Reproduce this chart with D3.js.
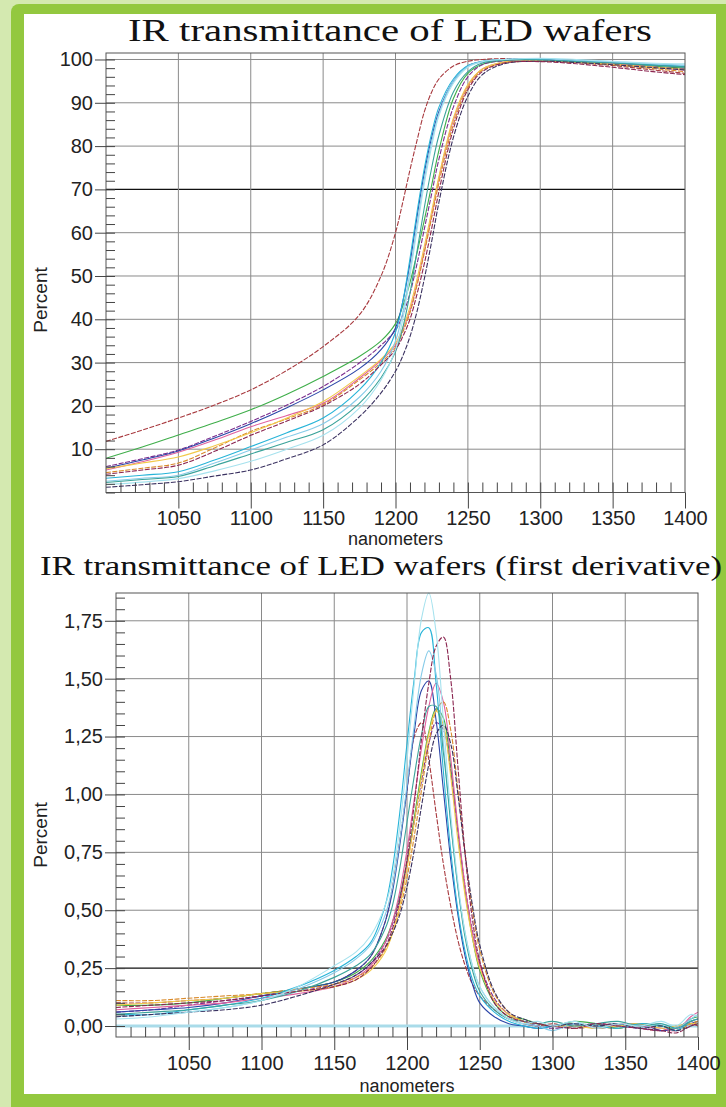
<!DOCTYPE html>
<html>
<head>
<meta charset="utf-8">
<script src="https://cdn.jsdelivr.net/npm/d3@7"></script>
<style>
  body { margin: 0; background: #d4e9b0; }
  svg { display: block; }
</style>
</head>
<body>
<div id="wrapper"></div>
<script>
// wavelength grid (nm) of the transmittance spectra
const nmTrans = [1000, 1025, 1050, 1075, 1100, 1125, 1150, 1175, 1190, 1200, 1205, 1210, 1215,
                 1220, 1225, 1230, 1240, 1250, 1260, 1275, 1300, 1325, 1350, 1375, 1400];
const transBrown  = [11.8, 14.4, 17.2, 20.2, 23.7, 28.2, 33.7, 41, 50, 60, 67, 74.5, 81.5, 88, 92.5, 95.5, 98.5, 99.6, 100, 100.2, 99.9, 99.3, 98.6, 97.7, 96.8];
const transGreen  = [7.9, 10.5, 13.3, 16.1, 19.1, 22.7, 26.8, 31.4, 35, 39, 43, 48.5, 55.5, 63, 71, 79, 91, 96.8, 98.9, 99.8, 99.8, 99.4, 99, 98.5, 98];
const transPurple = [6.0, 7.8, 9.8, 13, 16.4, 20.2, 24.5, 29.9, 34, 37.5, 41, 46, 53, 61, 69, 77, 89, 96, 98.8, 99.7, 99.8, 99.5, 99, 98.4, 97.8];
const transBlue   = [5.6, 7.5, 9.6, 12.6, 15.9, 19.6, 23.7, 28.6, 33, 38, 44, 53, 64, 74, 82, 88, 95, 98.5, 99.5, 100, 100, 99.6, 99.2, 98.8, 98.3];
const transPink   = [5.2, 7.1, 9.3, 12.1, 15.2, 17.8, 20.6, 26.4, 30.5, 34, 37.5, 42, 48.5, 56, 64, 72.5, 86, 94, 97.8, 99.4, 99.8, 99.5, 99, 98.3, 97.5];
const transOrange = [4.6, 5.6, 6.8, 10.3, 14.1, 17, 20.3, 26, 30, 33.5, 37, 41.5, 48, 55.5, 63.5, 71.5, 85, 93.5, 97.5, 99.2, 99.6, 99.3, 98.8, 98, 97.2];
const transYellow = [5.5, 6.8, 8.2, 10.8, 13.8, 17.2, 21, 26.8, 30.8, 34.5, 38, 42.8, 49.5, 57, 65, 73, 86.5, 94.2, 97.8, 99.4, 99.7, 99.4, 98.9, 98.3, 97.7];
const transCyan   = [3.3, 4.0, 4.8, 7.5, 10.6, 13.8, 17.2, 23.7, 30, 37, 44, 54, 65, 75, 83, 89, 95.5, 98.6, 99.6, 100, 100, 99.7, 99.3, 98.8, 98.5];
const transSky    = [2.6, 3.3, 4.0, 6.8, 9.8, 12.8, 15.9, 22, 28, 35, 41.5, 51, 62, 72.5, 81, 87.5, 95, 98.4, 99.5, 100, 100.2, 99.8, 99.4, 99, 98.7];
const transTeal   = [2.3, 3.0, 3.7, 6.2, 8.9, 11.6, 14.5, 20.6, 26.5, 32.5, 38, 46, 56, 66, 75, 82.5, 92.5, 97.2, 99.2, 99.8, 99.9, 99.5, 99.2, 98.7, 98.3];
const transNavy   = [1.2, 1.8, 2.5, 3.8, 5.2, 7.8, 11, 17.5, 23, 28, 31.5, 36, 42, 49.5, 58, 67, 82, 91.5, 96.5, 99, 99.6, 99.3, 98.8, 98.2, 97.6];
const transMaroon = [4.2, 5.2, 6.3, 9.5, 13.2, 16.5, 20, 25, 29.5, 33, 36, 40, 46, 53, 61, 69.5, 84, 93, 97.2, 99.2, 99.5, 99, 98.2, 97.3, 96.5];
const transIce    = [1.8, 2.4, 3.2, 5.0, 7.2, 10, 13.2, 19.5, 26, 33, 40, 50, 61, 71.5, 80, 87, 94.5, 98.2, 99.5, 100, 100.3, 100, 99.6, 99.2, 99];

// wavelength grid (nm) of the first derivative
const nmDeriv = [1000, 1025, 1050, 1075, 1100, 1125, 1150, 1165, 1175, 1185, 1190, 1195, 1200, 1205, 1210, 1215, 1220, 1225,
                 1230, 1235, 1240, 1245, 1250, 1260, 1270, 1280, 1290, 1300, 1315, 1330, 1345, 1360, 1375, 1385, 1395, 1400];
const derivBrown  = [0.10, 0.10, 0.11, 0.12, 0.14, 0.16, 0.19, 0.24, 0.30, 0.45, 0.60, 0.80, 1.02, 1.25, 1.31, 1.15, 0.92, 0.70, 0.52, 0.37, 0.26, 0.18, 0.13, 0.07, 0.03, 0.01, 0.00, 0.01, -0.01, 0.00, 0.01, -0.01, -0.02, 0.00, 0.01, 0.00];
const derivGreen  = [0.09, 0.09, 0.10, 0.12, 0.14, 0.16, 0.19, 0.23, 0.28, 0.37, 0.45, 0.56, 0.71, 0.90, 1.10, 1.27, 1.37, 1.33, 1.12, 0.84, 0.58, 0.38, 0.24, 0.10, 0.04, 0.03, 0.01, 0.00, 0.02, 0.01, -0.01, 0.01, 0.00, -0.01, 0.03, 0.04];
const derivPurple = [0.06, 0.07, 0.09, 0.11, 0.13, 0.15, 0.18, 0.22, 0.27, 0.36, 0.44, 0.55, 0.70, 0.88, 1.06, 1.22, 1.31, 1.28, 1.10, 0.84, 0.60, 0.41, 0.27, 0.12, 0.05, 0.02, 0.00, -0.01, 0.00, 0.01, 0.00, -0.01, -0.02, -0.01, 0.02, 0.03];
const derivBlue   = [0.06, 0.07, 0.08, 0.10, 0.13, 0.16, 0.19, 0.24, 0.30, 0.45, 0.58, 0.78, 1.02, 1.27, 1.45, 1.49, 1.32, 1.02, 0.72, 0.48, 0.30, 0.18, 0.10, 0.04, 0.01, 0.00, -0.01, 0.00, 0.01, -0.01, 0.00, 0.01, -0.02, -0.01, 0.01, 0.02];
const derivPink   = [0.07, 0.08, 0.09, 0.10, 0.12, 0.14, 0.17, 0.21, 0.26, 0.36, 0.45, 0.58, 0.76, 0.98, 1.20, 1.38, 1.48, 1.40, 1.16, 0.86, 0.60, 0.40, 0.26, 0.11, 0.05, 0.02, 0.01, 0.00, 0.01, -0.01, 0.01, 0.00, -0.01, -0.02, 0.04, 0.06];
const derivOrange = [0.11, 0.11, 0.12, 0.13, 0.14, 0.16, 0.18, 0.21, 0.25, 0.33, 0.40, 0.50, 0.64, 0.82, 1.02, 1.22, 1.36, 1.40, 1.28, 1.02, 0.74, 0.50, 0.33, 0.14, 0.06, 0.02, 0.01, 0.00, 0.01, 0.00, -0.01, 0.01, 0.00, -0.02, 0.01, 0.02];
const derivYellow = [0.09, 0.10, 0.11, 0.12, 0.14, 0.15, 0.17, 0.20, 0.24, 0.32, 0.40, 0.52, 0.68, 0.88, 1.08, 1.26, 1.36, 1.30, 1.08, 0.80, 0.56, 0.38, 0.25, 0.11, 0.05, 0.02, 0.01, 0.00, 0.00, -0.01, 0.00, 0.01, -0.01, 0.00, 0.01, 0.01];
const derivCyan   = [0.05, 0.05, 0.07, 0.09, 0.12, 0.17, 0.24, 0.30, 0.36, 0.52, 0.68, 0.92, 1.22, 1.50, 1.70, 1.72, 1.48, 1.10, 0.76, 0.50, 0.32, 0.20, 0.13, 0.06, 0.02, 0.00, -0.01, 0.00, 0.01, 0.00, -0.01, 0.01, 0.00, -0.02, 0.02, 0.03];
const derivSky    = [0.04, 0.05, 0.06, 0.08, 0.11, 0.16, 0.23, 0.29, 0.35, 0.48, 0.60, 0.80, 1.04, 1.30, 1.52, 1.62, 1.52, 1.22, 0.88, 0.60, 0.40, 0.26, 0.17, 0.08, 0.03, 0.01, 0.00, -0.02, 0.01, 0.00, 0.01, -0.01, 0.01, -0.01, 0.03, 0.05];
const derivTeal   = [0.05, 0.06, 0.07, 0.09, 0.11, 0.15, 0.21, 0.26, 0.31, 0.42, 0.52, 0.68, 0.88, 1.08, 1.26, 1.38, 1.38, 1.18, 0.88, 0.60, 0.38, 0.24, 0.15, 0.07, 0.03, 0.02, 0.01, 0.02, 0.00, 0.01, 0.02, 0.00, 0.01, -0.01, 0.02, 0.03];
const derivNavy   = [0.04, 0.05, 0.06, 0.07, 0.09, 0.13, 0.18, 0.22, 0.27, 0.34, 0.40, 0.48, 0.60, 0.76, 0.95, 1.13, 1.26, 1.30, 1.22, 1.00, 0.74, 0.52, 0.35, 0.15, 0.06, 0.03, 0.01, 0.00, 0.01, 0.00, 0.01, -0.01, 0.00, -0.02, 0.00, 0.01];
const derivMaroon = [0.08, 0.09, 0.10, 0.11, 0.13, 0.15, 0.17, 0.20, 0.25, 0.34, 0.42, 0.54, 0.72, 0.96, 1.24, 1.48, 1.64, 1.68, 1.50, 1.12, 0.74, 0.46, 0.28, 0.10, 0.04, 0.02, 0.01, 0.00, -0.01, 0.01, 0.00, -0.01, -0.02, -0.03, 0.00, 0.01];
const derivIce    = [0.03, 0.04, 0.06, 0.08, 0.11, 0.17, 0.26, 0.32, 0.39, 0.52, 0.64, 0.86, 1.15, 1.48, 1.76, 1.87, 1.70, 1.32, 0.92, 0.62, 0.40, 0.26, 0.17, 0.08, 0.03, 0.01, 0.02, 0.00, 0.02, -0.01, 0.01, 0.00, 0.02, 0.00, 0.05, 0.04];

// tick labels
const xTickLabels = [1050, 1100, 1150, 1200, 1250, 1300, 1350, 1400];
const transTickLabels = [10, 20, 30, 40, 50, 60, 70, 80, 90, 100];
const derivTickLabels = [0, 0.25, 0.5, 0.75, 1, 1.25, 1.5, 1.75];

const sampleNames = ["brown", "green", "purple", "blue", "pink", "orange", "yellow", "cyan", "sky", "teal", "navy", "maroon", "ice"];
const transSeries = [transBrown, transGreen, transPurple, transBlue, transPink, transOrange, transYellow, transCyan, transSky, transTeal, transNavy, transMaroon, transIce];
const derivSeries = [derivBrown, derivGreen, derivPurple, derivBlue, derivPink, derivOrange, derivYellow, derivCyan, derivSky, derivTeal, derivNavy, derivMaroon, derivIce];

const lineStyle = {
    brown:  { color: "#a83a3f", dash: "5 1.5" },
    green:  { color: "#3fae4a", dash: null },
    purple: { color: "#7b2d8e", dash: "5 1.5" },
    blue:   { color: "#2b45a8", dash: null },
    pink:   { color: "#e0609e", dash: null },
    orange: { color: "#d98a2b", dash: "5 1.5" },
    yellow: { color: "#f2c94a", dash: null },
    cyan:   { color: "#27b4d8", dash: null },
    sky:    { color: "#86cbe8", dash: null },
    teal:   { color: "#3aa39a", dash: null },
    navy:   { color: "#3a3160", dash: "5 1.5" },
    maroon: { color: "#8b2550", dash: "5 1.5" },
    ice:    { color: "#a6e2ee", dash: null }
};

function buildChart() {
    const width = 726, height = 1107;
    const svg = d3.select("#wrapper").append("svg")
        .attr("width", width)
        .attr("height", height);

    // green frame
    svg.append("rect").attr("width", width).attr("height", height).attr("fill", "#d4e9b0");
    svg.append("rect").attr("x", 11).attr("y", 4).attr("width", 740).attr("height", 1120)
        .attr("rx", 8).attr("fill", "#93c83f");
    svg.append("rect").attr("x", 24).attr("y", 14).attr("width", 692).attr("height", 1080)
        .attr("fill", "#ffffff");

    const panels = [
        {
            id: "trans",
            title: "IR transmittance of LED wafers", titleX: 390, titleY: 41, titleSize: 32, titleLen: 524,
            left: 106, right: 685, top: 53, bottom: 492.5,
            yDomain: [0, 101.5], yTicks: transTickLabels, yMinor: d3.range(0, 101, 2),
            yFormat: d => d, yDark: 70,
            tickLen: 16, tickPad: 2, xNameY: 545, yNameY: 300
        },
        {
            id: "deriv",
            title: "IR transmittance of LED wafers (first derivative)", titleX: 381, titleY: 575, titleSize: 27, titleLen: 682,
            left: 116, right: 698, top: 593, bottom: 1037,
            yDomain: [-0.0475, 1.87], yTicks: derivTickLabels, yMinor: d3.range(0, 1.86, 0.05),
            yFormat: d => d3.format(".2f")(d).replace(".", ","), yDark: 0.25,
            tickLen: 13, tickPad: 6, xNameY: 1092, yNameY: 835
        }
    ];
    panels[0].nm = nmTrans; panels[0].series = transSeries;
    panels[1].nm = nmDeriv; panels[1].series = derivSeries;

    panels.forEach(p => {
        const xScaler = d3.scaleLinear().domain([1000, 1400]).range([p.left, p.right]);
        const yScaler = d3.scaleLinear().domain(p.yDomain).range([p.bottom, p.top]);
        const g = svg.append("g");

        g.append("text")
            .attr("x", p.titleX).attr("y", p.titleY)
            .attr("text-anchor", "middle")
            .attr("textLength", p.titleLen)
            .attr("lengthAdjust", "spacingAndGlyphs")
            .style("font-family", "'Liberation Serif', 'Times New Roman', serif")
            .style("font-size", p.titleSize + "px")
            .attr("fill", "#111")
            .text(p.title);

        // grid
        g.selectAll(".hgrid").data(p.yTicks.filter(d => d !== 0)).join("line")
            .attr("x1", p.left).attr("x2", p.right)
            .attr("y1", d => yScaler(d)).attr("y2", d => yScaler(d))
            .attr("stroke", d => d === p.yDark ? "#111" : "#8a8a8a")
            .attr("stroke-width", d => d === p.yDark ? 1.4 : 1);
        g.selectAll(".vgrid").data(xTickLabels.slice(0, -1)).join("line")
            .attr("x1", d => xScaler(d)).attr("x2", d => xScaler(d))
            .attr("y1", p.top).attr("y2", p.bottom)
            .attr("stroke", "#8a8a8a");

        if (p.id === "deriv") {
            g.append("line")
                .attr("x1", p.left).attr("x2", p.right)
                .attr("y1", yScaler(0)).attr("y2", yScaler(0))
                .attr("stroke", "#a9dbe9").attr("stroke-width", 3);
        }

        // spectra
        g.append("clipPath").attr("id", "clip-" + p.id).append("rect")
            .attr("x", p.left).attr("y", p.top - 1)
            .attr("width", p.right - p.left).attr("height", p.bottom - p.top + 1);
        const lineGenerator = d3.line()
            .x((d, i) => xScaler(p.nm[i]))
            .y(d => yScaler(d))
            .curve(d3.curveCatmullRom.alpha(0.5));
        g.append("g").attr("clip-path", `url(#clip-${p.id})`)
            .selectAll("path").data(p.series).join("path")
            .attr("d", d => lineGenerator(d))
            .attr("fill", "none")
            .attr("stroke", (d, i) => lineStyle[sampleNames[i]].color)
            .attr("stroke-dasharray", (d, i) => lineStyle[sampleNames[i]].dash)
            .attr("stroke-width", 1.1);

        // frame
        g.append("rect")
            .attr("x", p.left).attr("y", p.top)
            .attr("width", p.right - p.left).attr("height", p.bottom - p.top)
            .attr("fill", "none").attr("stroke", "#555");

        // minor ticks
        g.append("g").attr("transform", `translate(${p.left},0)`)
            .call(d3.axisLeft(yScaler).tickValues(p.yMinor).tickSize(-9).tickFormat(""))
            .call(a => a.select(".domain").remove())
            .call(a => a.selectAll("line").attr("stroke", "#444"));
        g.append("g").attr("transform", `translate(0,${p.bottom})`)
            .call(d3.axisBottom(xScaler).tickValues(d3.range(1010, 1400, 10)).tickSize(-10).tickFormat(""))
            .call(a => a.select(".domain").remove())
            .call(a => a.selectAll("line").attr("stroke", "#444"));

        // labelled axes
        const yAxis = g.append("g").attr("transform", `translate(${p.left},0)`)
            .call(d3.axisLeft(yScaler).tickValues(p.yTicks).tickSize(11).tickPadding(2).tickFormat(p.yFormat));
        const xAxis = g.append("g").attr("transform", `translate(0,${p.bottom})`)
            .call(d3.axisBottom(xScaler).tickValues(xTickLabels).tickSize(p.tickLen).tickPadding(p.tickPad).tickFormat(d3.format("d")));
        [yAxis, xAxis].forEach(a => {
            a.select(".domain").remove();
            a.selectAll("line").attr("stroke", "#444");
            a.selectAll("text")
                .attr("fill", "#222")
                .style("font-family", "'Liberation Sans', Arial, sans-serif")
                .style("font-size", "20px");
        });

        g.append("text")
            .attr("x", (p.left + p.right) / 2).attr("y", p.xNameY)
            .attr("text-anchor", "middle")
            .style("font-family", "'Liberation Sans', Arial, sans-serif")
            .style("font-size", "18px")
            .attr("fill", "#222")
            .text("nanometers");
        g.append("text")
            .attr("transform", `translate(47,${p.yNameY}) rotate(-90)`)
            .attr("text-anchor", "middle")
            .style("font-family", "'Liberation Sans', Arial, sans-serif")
            .style("font-size", "19px")
            .attr("fill", "#222")
            .text("Percent");
    });
}
buildChart();
</script>
</body>
</html>
